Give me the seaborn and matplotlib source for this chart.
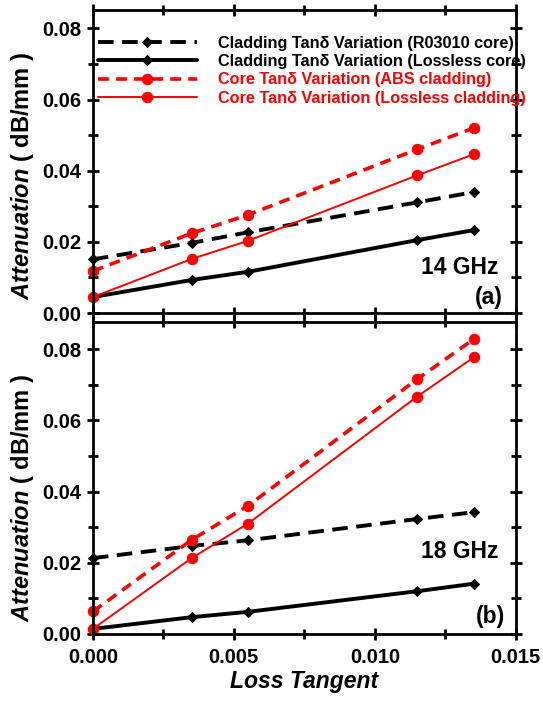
import numpy as np
import pandas as pd
import matplotlib
matplotlib.use("Agg")
import matplotlib.pyplot as plt
import seaborn as sns
from matplotlib.ticker import MultipleLocator

# loss tangent values
loss_tan = [0.0, 0.0035, 0.0055, 0.0115, 0.0135]

# 14 GHz (a)
clad_r03010_14 = [0.0151, 0.0197, 0.0227, 0.0311, 0.0340]
clad_lossless_14 = [0.0045, 0.0093, 0.0116, 0.0205, 0.0233]
core_abs_14 = [0.0118, 0.0224, 0.0276, 0.0460, 0.0520]
core_lossless_14 = [0.0045, 0.0152, 0.0203, 0.0387, 0.0446]

# 18 GHz (b)
clad_r03010_18 = [0.0213, 0.0247, 0.0263, 0.0323, 0.0342]
clad_lossless_18 = [0.0014, 0.0047, 0.0062, 0.0120, 0.0141]
core_abs_18 = [0.0063, 0.0264, 0.0360, 0.0716, 0.0828]
core_lossless_18 = [0.0014, 0.0213, 0.0310, 0.0667, 0.0777]

labels = ["Cladding Tan\u03b4 Variation (R03010 core)",
          "Cladding Tan\u03b4 Variation (Lossless core)",
          "Core Tan\u03b4 Variation (ABS cladding)",
          "Core Tan\u03b4 Variation (Lossless cladding)"]

sns.set_theme(style="ticks")
plt.rcParams['font.family'] = ['Liberation Sans', 'DejaVu Sans']
plt.rcParams['font.weight'] = 'bold'
plt.rcParams['text.color'] = 'black'
plt.rcParams['axes.labelcolor'] = 'black'
plt.rcParams['mathtext.fontset'] = 'custom'
plt.rcParams['mathtext.it'] = 'Liberation Sans:italic:bold'
plt.rcParams['mathtext.rm'] = 'Liberation Sans:bold'

styles = [
    dict(color="black", linestyle=(0, (4, 2.2)), marker="D", markersize=5.5, linewidth=2.8),
    dict(color="black", linestyle="-", marker="D", markersize=5.5, linewidth=2.8),
    dict(color="red", linestyle=(0, (3, 2)), marker="o", markersize=7.5, linewidth=2.6),
    dict(color="red", linestyle="-", marker="o", markersize=7.5, linewidth=1.4),
]

fig = plt.figure(figsize=(5.43, 7.02), dpi=100)
ax1 = fig.add_axes([0.171, 0.554, 0.779, 0.432])
ax2 = fig.add_axes([0.171, 0.097, 0.779, 0.444])

panels = [
    (ax1, [clad_r03010_14, clad_lossless_14, core_abs_14, core_lossless_14], 0.0852, 0.452),
    (ax2, [clad_r03010_18, clad_lossless_18, core_abs_18, core_lossless_18], 0.0876, 0.436),
]

for ax, series, ytop, label_y in panels:
    for vals, lab, st in zip(series, labels, styles):
        df = pd.DataFrame({"x": loss_tan, "y": vals})
        sns.lineplot(data=df, x="x", y="y", ax=ax, label=lab,
                     markeredgecolor=st["color"], clip_on=False, **st)
    ax.set_xlim(0, 0.015)
    ax.set_ylim(0, ytop)
    ax.xaxis.set_major_locator(MultipleLocator(0.005))
    ax.xaxis.set_minor_locator(MultipleLocator(0.0025))
    ax.yaxis.set_major_locator(MultipleLocator(0.02))
    ax.yaxis.set_minor_locator(MultipleLocator(0.01))
    ax.tick_params(which='both', direction='inout', top=True, right=True,
                   width=2, colors='black', labelsize=14.5)
    ax.tick_params(which='major', length=9, pad=4)
    ax.tick_params(axis='x', which='major', pad=6)
    ax.tick_params(which='minor', length=7)
    for sp in ax.spines.values():
        sp.set_linewidth(2)
        sp.set_color('black')
    ax.yaxis.set_major_formatter(plt.FuncFormatter(lambda v, p: f"{v:.2f}"))
    ax.set_ylabel(r"$Attenuation$ ( dB/mm )", fontsize=17, fontweight='bold')
    ax.yaxis.set_label_coords(-0.135, label_y)
    ax.set_xlabel("")

ax1.tick_params(labelbottom=False)
ax2.xaxis.set_major_formatter(plt.FuncFormatter(lambda v, p: f"{v:.3f}"))
ax2.set_xlabel("Loss Tangent", fontsize=16.5, fontweight='bold', fontstyle='italic', labelpad=2)
ax2.get_legend().remove()

leg = ax1.legend(loc='upper left', frameon=False, fontsize=11.7, handlelength=6.1,
                 handletextpad=1.3, labelspacing=0.2, borderaxespad=0.0,
                 borderpad=0.3, bbox_to_anchor=(0.0, 0.93))
for txt, st in zip(leg.get_texts(), styles):
    txt.set_color(st["color"])
    txt.set_fontweight('bold')

ax1.text(0.868, 0.15, "14 GHz", transform=ax1.transAxes, ha='center', va='center',
         fontsize=16.5, fontweight='bold')
ax1.text(0.97, 0.053, "(a)", transform=ax1.transAxes, ha='right', va='center',
         fontsize=16.5, fontweight='bold')
ax2.text(0.868, 0.263, "18 GHz", transform=ax2.transAxes, ha='center', va='center',
         fontsize=16.5, fontweight='bold')
ax2.text(0.974, 0.055, "(b)", transform=ax2.transAxes, ha='right', va='center',
         fontsize=16.5, fontweight='bold')

fig.savefig("out.png", dpi=100)
